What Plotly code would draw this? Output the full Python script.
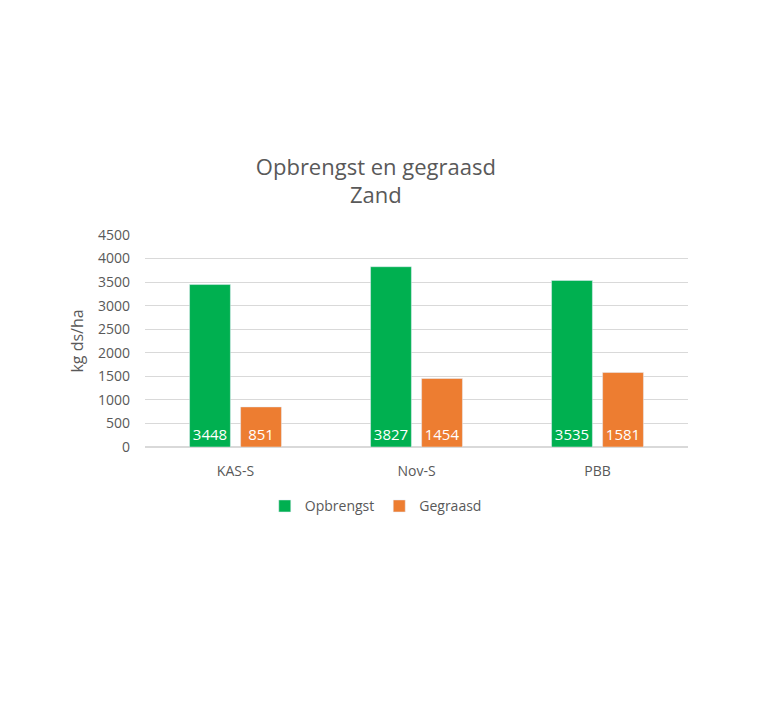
import plotly.graph_objects as go

categories = ["KAS-S", "Nov-S", "PBB"]
opbrengst = [3448, 3827, 3535]
gegraasd = [851, 1454, 1581]
y_ticks = [0, 500, 1000, 1500, 2000, 2500, 3000, 3500, 4000, 4500]

font_name = "Open Sans"
gray = "#595959"

fig = go.Figure()
fig.add_trace(go.Bar(
    x=categories, y=opbrengst, name="Opbrengst",
    marker=dict(color="#00B050"),
    text=opbrengst, textposition="inside", insidetextanchor="start",
    textfont=dict(color="white", size=15, family=font_name),
))
fig.add_trace(go.Bar(
    x=categories, y=gegraasd, name="Gegraasd",
    marker=dict(color="#ED7D31"),
    text=gegraasd, textposition="inside", insidetextanchor="start",
    textfont=dict(color="white", size=15, family=font_name),
))

# page body adds 8px offset, so margins are shifted by 8
fig.update_layout(
    width=768, height=724,
    paper_bgcolor="white", plot_bgcolor="white",
    margin=dict(l=137, r=88, t=227, b=285),
    barmode="group", bargap=0.436, bargroupgap=0.2,
    font=dict(family=font_name, color=gray, size=14),
    title=dict(
        text="Opbrengst en gegraasd<br>Zand",
        x=0.479, xanchor="center", y=0.770, yanchor="top", yref="container",
        font=dict(size=22, color=gray, family=font_name),
    ),
    xaxis=dict(showline=False, ticks="", ticklabelstandoff=14,
               tickfont=dict(size=14, color=gray)),
    yaxis=dict(
        range=[0, 4500], tickvals=y_ticks, showgrid=True, gridcolor="#D9D9D9",
        zeroline=True, zerolinecolor="#D9D9D9", ticks="", ticklen=0,
        ticklabelstandoff=14,
        tickfont=dict(size=14, color=gray),
        title=dict(text="kg ds/ha", font=dict(size=16, color=gray), standoff=10),
    ),
    legend=dict(
        orientation="h", x=0.425, xanchor="center", y=-0.28, yanchor="middle",
        font=dict(size=14, color=gray), itemwidth=30, traceorder="normal",
    ),
)

fig.write_html("out.html")
